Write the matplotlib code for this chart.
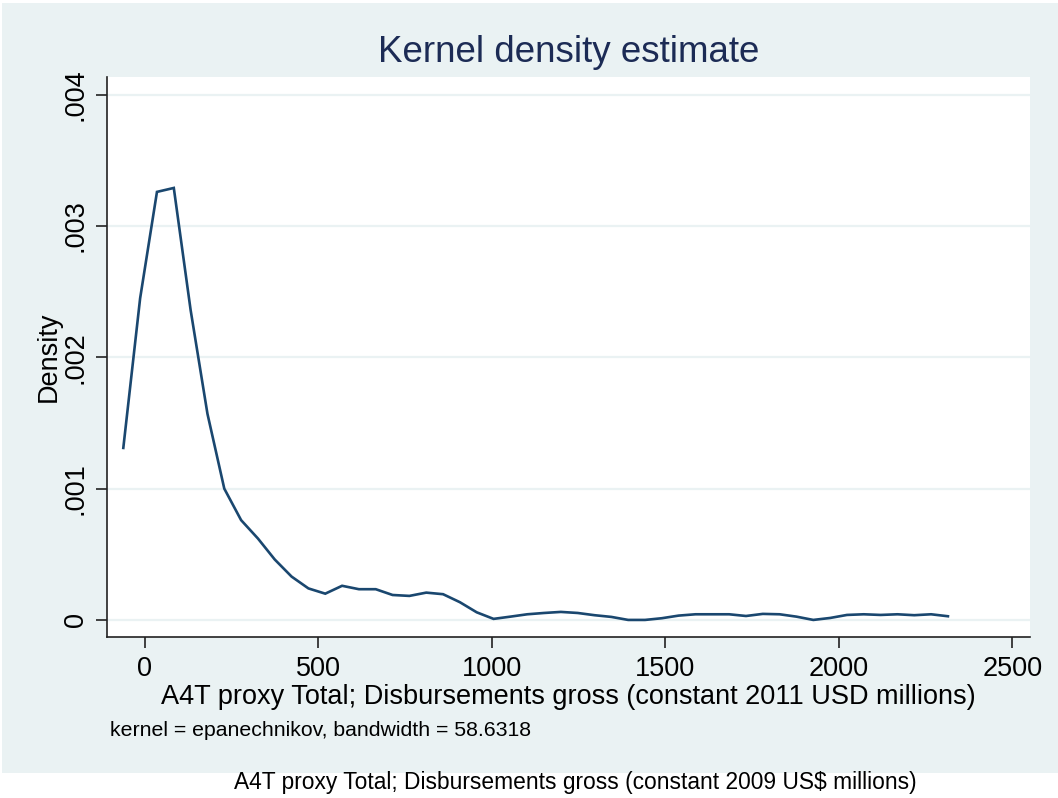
import matplotlib
matplotlib.use('Agg')
import matplotlib.pyplot as plt
from matplotlib.patches import Rectangle

plt.rcParams['font.family'] = ['Liberation Sans', 'DejaVu Sans']

# density curve (50 evaluation points)
grid_x = [-62, -13.5, 35, 83.5, 132, 180.5, 229, 277.5, 326, 374.5,
          423, 471.5, 520, 568.5, 617, 665.5, 714, 762.5, 811, 859.5,
          908, 956.5, 1005, 1053.5, 1102, 1150.5, 1199, 1247.5, 1296, 1344.5,
          1393, 1441.5, 1490, 1538.5, 1587, 1635.5, 1684, 1732.5, 1781, 1829.5,
          1878, 1926.5, 1975, 2023.5, 2072, 2120.5, 2169, 2217.5, 2266, 2314.5]
density = [0.00131, 0.00245, 0.00326, 0.00329, 0.00236, 0.00157, 0.00100, 0.00076, 0.00062, 0.00046,
           0.00033, 0.00024, 0.00020, 0.00026, 0.000234, 0.000234, 0.00019, 0.000183, 0.000208, 0.000196,
           0.000135, 0.000058, 0.000008, 0.000025, 0.000043, 0.000053, 0.000061, 0.000053, 0.000036, 0.000023,
           0.0, 0.0, 0.000013, 0.000033, 0.000043, 0.000043, 0.000043, 0.00003, 0.000046, 0.000043,
           0.000025, 0.0, 0.000015, 0.000038, 0.000043, 0.000038, 0.000043, 0.000036, 0.000043, 0.000028]

x_ticks = [0, 500, 1000, 1500, 2000, 2500]
y_ticks = [0, 0.001, 0.002, 0.003, 0.004]
y_tick_labels = ['0', '.001', '.002', '.003', '.004']

BG = '#EAF2F3'
W, H = 1058, 798

fig = plt.figure(figsize=(W / 100, H / 100), dpi=100, facecolor='white')

# stata style light panel behind the graph
panel = Rectangle((2 / W, (H - 773) / H), (W - 2) / W, (773 - 3) / H,
                  transform=fig.transFigure, facecolor=BG,
                  edgecolor='none', zorder=-10)
fig.add_artist(panel)

ax = fig.add_axes([107 / W, (H - 637) / H, (1030 - 107) / W, (637 - 77) / H])
ax.set_facecolor('white')
ax.set_zorder(1)

ax.plot(grid_x, density, color='#1a476f', linewidth=1.9, solid_joinstyle='miter')

ax.set_xlim(-109, 2551)
ax.set_ylim(-0.00013, 0.004135)
ax.set_xticks(x_ticks)
ax.set_xticklabels([str(t) for t in x_ticks], fontsize=19.5)
ax.set_yticks(y_ticks)
ax.set_yticklabels(y_tick_labels, fontsize=19.5, rotation=90, va='center')

ax.grid(axis='y', color=BG, linewidth=1.6)
ax.set_axisbelow(True)
for s in ['top', 'right']:
    ax.spines[s].set_visible(False)
for s in ['left', 'bottom']:
    ax.spines[s].set_color('#222222')
    ax.spines[s].set_linewidth(1.2)
ax.tick_params(length=8, width=1.2, color='#222222')
ax.tick_params(axis='x', pad=6)
ax.tick_params(axis='y', pad=5)

ax.set_ylabel('Density', fontsize=19.5, labelpad=1)
ax.set_xlabel('A4T proxy Total; Disbursements gross (constant 2011 USD millions)',
              fontsize=19.5, labelpad=1)

fig.text(568.5 / W, 1 - 53 / H, 'Kernel density estimate', fontsize=26.5,
         color='#1c2b55', ha='center', va='center')
fig.text(110 / W, 1 - 730 / H, 'kernel = epanechnikov, bandwidth = 58.6318',
         fontsize=15.3, ha='left', va='center')
fig.text(575 / W, 1 - 782 / H,
         'A4T proxy Total; Disbursements gross (constant 2009 US$ millions)',
         fontsize=16.4, ha='center', va='center')

fig.savefig('out.png', dpi=100, facecolor='white')
